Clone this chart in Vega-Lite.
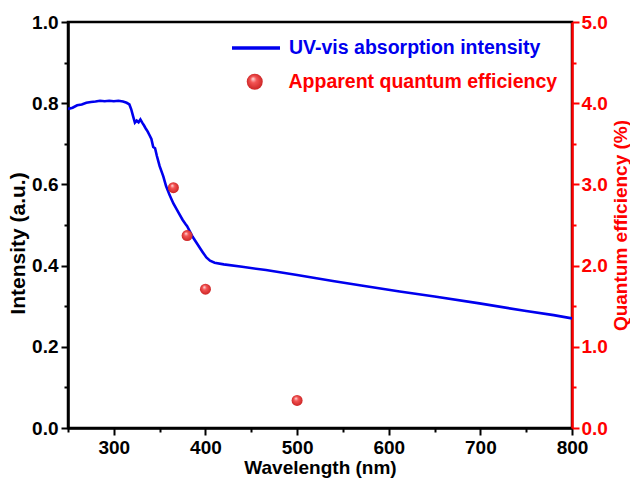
{
  "$schema": "https://vega.github.io/schema/vega-lite/v6.json",
  "width": 504,
  "height": 406,
  "autosize": {"type": "none"},
  "padding": {"left": 68, "top": 22, "right": 58, "bottom": 51},
  "background": "white",
  "config": {
    "view": {"stroke": "black", "strokeWidth": 2.5},
    "font": "Liberation Sans",
    "axis": {
      "labelFont": "Liberation Sans",
      "labelFontWeight": "bold",
      "labelFontSize": 19,
      "titleFont": "Liberation Sans",
      "titleFontWeight": "bold",
      "titleFontSize": 19,
      "grid": false,
      "domainWidth": 2.5,
      "tickWidth": 2,
      "labelColor": "black",
      "titleColor": "black",
      "domainColor": "black",
      "tickColor": "black"
    },
    "legend": {
      "labelFont": "Liberation Sans",
      "labelFontWeight": "bold",
      "labelFontSize": 19.5,
      "labelLimit": 0,
      "padding": 0,
      "offset": 0
    }
  },
  "datasets": {
    "uv": [
      {"wavelength": 250, "intensity": 0.786},
      {"wavelength": 255, "intensity": 0.789},
      {"wavelength": 260, "intensity": 0.795},
      {"wavelength": 265, "intensity": 0.797},
      {"wavelength": 270, "intensity": 0.801},
      {"wavelength": 275, "intensity": 0.803},
      {"wavelength": 280, "intensity": 0.804},
      {"wavelength": 285, "intensity": 0.806},
      {"wavelength": 290, "intensity": 0.805},
      {"wavelength": 295, "intensity": 0.806},
      {"wavelength": 300, "intensity": 0.805},
      {"wavelength": 305, "intensity": 0.806},
      {"wavelength": 310, "intensity": 0.804},
      {"wavelength": 314, "intensity": 0.801},
      {"wavelength": 317, "intensity": 0.797},
      {"wavelength": 319, "intensity": 0.785},
      {"wavelength": 321, "intensity": 0.768},
      {"wavelength": 323, "intensity": 0.752},
      {"wavelength": 325, "intensity": 0.757},
      {"wavelength": 327, "intensity": 0.753},
      {"wavelength": 329, "intensity": 0.760},
      {"wavelength": 331, "intensity": 0.752},
      {"wavelength": 333, "intensity": 0.745},
      {"wavelength": 335, "intensity": 0.737},
      {"wavelength": 337, "intensity": 0.730},
      {"wavelength": 339, "intensity": 0.721},
      {"wavelength": 341, "intensity": 0.712},
      {"wavelength": 343, "intensity": 0.692},
      {"wavelength": 345, "intensity": 0.689},
      {"wavelength": 347, "intensity": 0.670},
      {"wavelength": 350, "intensity": 0.645},
      {"wavelength": 354, "intensity": 0.620},
      {"wavelength": 357, "intensity": 0.596},
      {"wavelength": 361, "intensity": 0.573},
      {"wavelength": 365, "intensity": 0.553},
      {"wavelength": 370, "intensity": 0.533},
      {"wavelength": 375, "intensity": 0.513},
      {"wavelength": 378, "intensity": 0.503},
      {"wavelength": 380, "intensity": 0.497},
      {"wavelength": 386, "intensity": 0.471},
      {"wavelength": 392, "intensity": 0.450},
      {"wavelength": 397, "intensity": 0.433},
      {"wavelength": 401, "intensity": 0.420},
      {"wavelength": 405, "intensity": 0.412},
      {"wavelength": 410, "intensity": 0.407},
      {"wavelength": 420, "intensity": 0.403},
      {"wavelength": 440, "intensity": 0.397},
      {"wavelength": 466, "intensity": 0.389},
      {"wavelength": 500, "intensity": 0.377},
      {"wavelength": 539, "intensity": 0.362},
      {"wavelength": 570, "intensity": 0.351},
      {"wavelength": 612, "intensity": 0.336},
      {"wavelength": 650, "intensity": 0.324},
      {"wavelength": 699, "intensity": 0.307},
      {"wavelength": 750, "intensity": 0.288},
      {"wavelength": 780, "intensity": 0.278},
      {"wavelength": 800, "intensity": 0.270}
    ],
    "aqe": [
      {"wavelength": 365, "qe": 2.96},
      {"wavelength": 380, "qe": 2.37},
      {"wavelength": 400, "qe": 1.71},
      {"wavelength": 500, "qe": 0.34}
    ]
  },
  "layer": [
    {
      "data": {"name": "uv"},
      "transform": [{"calculate": "'UV-vis absorption intensity'", "as": "series"}],
      "mark": {"type": "line", "strokeWidth": 2.6, "clip": true},
      "encoding": {
        "x": {
          "field": "wavelength", "type": "quantitative",
          "scale": {"domain": [250, 800], "nice": false, "zero": false},
          "axis": {
            "title": "Wavelength (nm)",
            "values": [250, 300, 350, 400, 450, 500, 550, 600, 650, 700, 750, 800],
            "labelExpr": "datum.value % 100 == 0 ? datum.label : ''",
            "tickSize": {"condition": {"test": "datum.value % 100 == 0", "value": 7}, "value": 4},
            "labelPadding": 3,
            "titlePadding": 1,
            "labelFlush": false,
            "labelOverlap": false
          }
        },
        "y": {
          "field": "intensity", "type": "quantitative",
          "scale": {"domain": [0, 1], "nice": false},
          "axis": {
            "title": "Intensity (a.u.)",
            "titleFontSize": 21,
            "titleY": 221,
            "values": [0, 0.1, 0.2, 0.3, 0.4, 0.5, 0.6, 0.7, 0.8, 0.9, 1.0],
            "labelExpr": "round(datum.value * 10) % 2 == 0 ? format(datum.value, '.1f') : ''",
            "tickSize": {"condition": {"test": "round(datum.value * 10) % 2 == 0", "value": 7}, "value": 4},
            "labelPadding": 3,
            "titlePadding": 3,
            "labelFlush": false,
            "labelOverlap": false
          }
        },
        "color": {
          "field": "series", "type": "nominal",
          "scale": {"domain": ["UV-vis absorption intensity"], "range": ["#0000ee"]},
          "legend": {
            "title": null,
            "orient": "none",
            "legendX": 162,
            "legendY": 0,
            "symbolType": "stroke",
            "symbolSize": 2304,
            "symbolStrokeWidth": 3.5,
            "labelOffset": 7,
            "labelLimit": 0,
            "labelColor": "#0000ee"
          }
        }
      }
    },
    {
      "data": {"name": "aqe"},
      "transform": [{"calculate": "'Apparent quantum efficiency'", "as": "series2"}],
      "mark": {
        "type": "point",
        "filled": true,
        "size": 121,
        "opacity": 1,
        "color": {
          "gradient": "radial",
          "x1": 0.38, "y1": 0.3, "r1": 0,
          "x2": 0.5, "y2": 0.5, "r2": 0.55,
          "stops": [
            {"offset": 0, "color": "#ffe6e6"},
            {"offset": 0.35, "color": "#f45555"},
            {"offset": 1, "color": "#c82020"}
          ]
        }
      },
      "encoding": {
        "x": {"field": "wavelength", "type": "quantitative"},
        "y": {
          "field": "qe", "type": "quantitative",
          "scale": {"domain": [0, 5], "nice": false},
          "axis": {
            "orient": "right",
            "title": "Quantum efficiency (%)",
            "titleAngle": -90,
            "titleBaseline": "top",
            "values": [0, 0.5, 1, 1.5, 2, 2.5, 3, 3.5, 4, 4.5, 5],
            "labelExpr": "datum.value % 1 == 0 ? format(datum.value, '.1f') : ''",
            "tickSize": {"condition": {"test": "datum.value % 1 == 0", "value": 7}, "value": 4},
            "labelPadding": 2,
            "titlePadding": 4,
            "labelFlush": false,
            "labelOverlap": false,
            "domainColor": "#ff0000",
            "tickColor": "#ff0000",
            "labelColor": "#ff0000",
            "titleColor": "#ff0000"
          }
        },
        "shape": {
          "field": "series2", "type": "nominal",
          "scale": {"domain": ["Apparent quantum efficiency"], "range": ["circle"]},
          "legend": {
            "title": null,
            "orient": "none",
            "legendX": 177,
            "legendY": 50,
            "symbolSize": 256,
            "symbolStrokeWidth": 0,
            "labelOffset": 24,
            "labelLimit": 0,
            "labelColor": "#ff0000",
            "symbolOpacity": 1,
            "encode": {
              "symbols": {
                "update": {
                  "fill": {"value": {
                    "gradient": "radial",
                    "x1": 0.38, "y1": 0.3, "r1": 0,
                    "x2": 0.5, "y2": 0.5, "r2": 0.55,
                    "stops": [
                      {"offset": 0, "color": "#ffe6e6"},
                      {"offset": 0.35, "color": "#f45555"},
                      {"offset": 1, "color": "#c82020"}
                    ]
                  }},
                  "stroke": {"value": "transparent"}
                }
              }
            }
          }
        }
      }
    }
  ],
  "resolve": {"scale": {"y": "independent", "color": "independent", "shape": "independent"}}
}
